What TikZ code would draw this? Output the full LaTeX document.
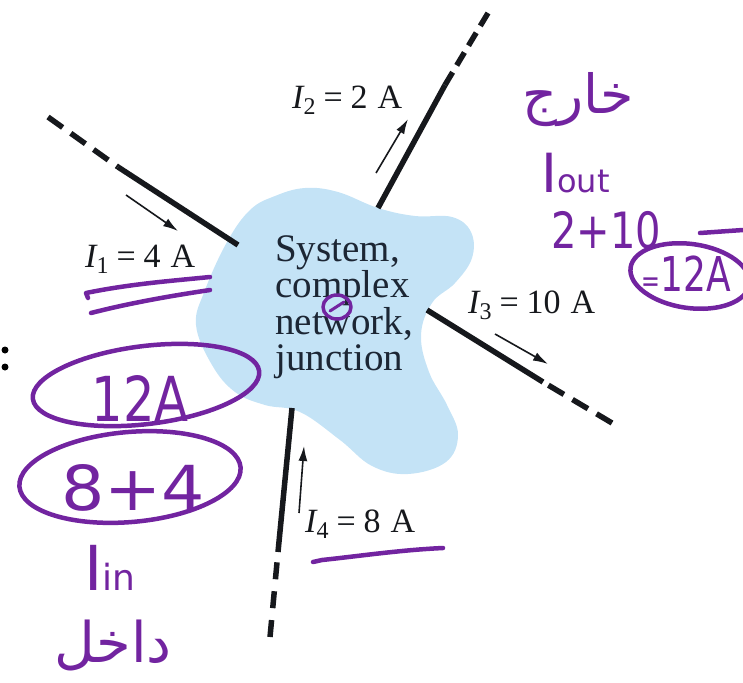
\documentclass[tikz,border=0pt]{standalone}
\usepackage{fontspec}
\setmainfont{Liberation Serif}
\newfontfamily\hand{DejaVu Sans}
\newfontfamily\arabicfont[Script=Arabic]{DejaVu Sans}
\TeXXeTstate=1
\usetikzlibrary{arrows.meta}
\definecolor{blobblue}{RGB}{196,227,246}
\definecolor{pen}{RGB}{114,36,160}
\definecolor{ink}{RGB}{22,24,28}
\definecolor{bodyink}{RGB}{28,38,52}
\newcommand{\curlab}[2]{{\itshape I}\raisebox{-6pt}{\fontsize{24}{24}\selectfont #1}\hspace{8pt}=\hspace{8pt}#2\hspace{10pt}A}
\begin{document}
\begin{tikzpicture}[x=1pt,y=-1pt,
  wire/.style={line width=5.5pt,ink},
  wiredash/.style={line width=5.5pt,ink,dash pattern=on 18pt off 10pt},
  curarrow/.style={line width=1.6pt,ink,-{Latex[length=15pt,width=9pt]}},
  curlabel/.style={anchor=base west,inner sep=0pt,text=ink,font=\fontsize{34}{34}\selectfont},
  body/.style={anchor=base west,inner sep=0pt,text=bodyink,font=\fontsize{39}{39}\selectfont},
  penline/.style={pen,line width=4.5pt,line cap=round,line join=round},
  pentext/.style={inner sep=0pt,text=pen},
]
\useasboundingbox (0,0) rectangle (743,682);

% blob
\fill[blobblue] plot[smooth cycle, tension=0.65] coordinates {
 (205,290) (227,242) (250,210) (275,196) (305,188) (338,192) (378,208)
 (415,216) (452,217) (471,232) (472,258) (455,283) (432,303) (421,335)
 (429,372) (447,405) (458,435) (446,462) (408,474) (372,466) (340,440)
 (300,412) (265,405) (235,392) (212,365) (196,325)};

% wire coordinates
\coordinate (w1o) at (48,117);  \coordinate (w1m) at (118,167); \coordinate (w1i) at (238,245);
\coordinate (w2i) at (378,208); \coordinate (w2m) at (445,85);  \coordinate (w2o) at (488,13);
\coordinate (w3i) at (427,310); \coordinate (w3m) at (543,382); \coordinate (w3o) at (612,423);
\coordinate (w4i) at (292,408); \coordinate (w4m) at (278,552); \coordinate (w4o) at (270,637);

\draw[wire] (w1m) -- (w1i);
\draw[wiredash] (w1o) -- (w1m);
\draw[wire] (w2i) -- (w2m);
\draw[wiredash,dash pattern=on 15pt off 8pt] (w2o) -- (w2m);
\draw[wire] (w3i) -- (w3m);
\draw[wiredash] (w3o) -- (w3m);
\draw[wire] (w4i) -- (w4m);
\draw[wiredash,dash pattern=on 17pt off 12pt] (w4o) -- (w4m);

% current arrows
\coordinate (a1s) at (126,195); \coordinate (a1e) at (178,231);
\coordinate (a2s) at (376,173); \coordinate (a2e) at (408,119);
\coordinate (a3s) at (495,334); \coordinate (a3e) at (548,364);
\coordinate (a4s) at (299,513); \coordinate (a4e) at (304,446);
\draw[curarrow] (a1s) -- (a1e);
\draw[curarrow] (a2s) -- (a2e);
\draw[curarrow] (a3s) -- (a3e);
\draw[curarrow] (a4s) -- (a4e);

% labels
\node[curlabel] (L1) at (85,267) {\curlab{1}{4}};
\node[curlabel] (L2) at (292,108) {\curlab{2}{2}};
\node[curlabel] (L3) at (468,313) {\curlab{3}{10}};
\node[curlabel] (L4) at (305,532) {\curlab{4}{8}};

\node[body] (t1) at (275,261) {System,};
\node[body] (t2) at (275,297) {complex};
\node[body] (t3) at (275,334) {network,};
\node[body] (t4) at (275,370) {junction};

% colon
\fill[black] (5,350) circle (3.5pt) (5,367) circle (3.5pt);

% handwritten annotations
\draw[penline] (88,298) -- (86,293) .. controls (130,284) and (170,281) .. (210,277);
\draw[penline] (91,313) .. controls (130,303) and (170,296) .. (210,290);
\draw[penline] (313,562) -- (322,560) .. controls (360,556) and (400,550) .. (443,548);
\draw[penline,line width=3.5pt] (337,307) ellipse [x radius=14, y radius=12];
\draw[penline,line width=3pt] (330,311) -- (344,302);

\draw[penline] (146,385) ellipse [x radius=114, y radius=39, rotate=7];
\draw[penline] (130,477) ellipse [x radius=111, y radius=45, rotate=5];
\node[pentext,font=\hand\fontsize{62}{62}\selectfont,xscale=0.8] (h12) at (140,398) {12A};
\node[pentext,font=\hand\fontsize{62}{62}\selectfont,xscale=1.1] (h84) at (133,488) {8+4};
\node[pentext,anchor=base west] (hin) at (84,590) {\hand\fontsize{62}{62}\selectfont I\fontsize{36}{36}\selectfont in};
\node[pentext,font=\arabicfont\fontsize{56}{56}\selectfont] (hdakhil) at (113,645) {\beginR داخل\endR};

\node[pentext,font=\arabicfont\fontsize{54}{54}\selectfont] (hkharij) at (578,100) {\beginR خارج\endR};
\node[pentext,anchor=base west] (hout) at (541,192) {\hand\fontsize{54}{54}\selectfont I\fontsize{32}{32}\selectfont out};
\node[pentext,font=\hand\fontsize{50}{50}\selectfont,xscale=0.8] (h210) at (606,230) {2+10};
\draw[penline] (690,276) ellipse [x radius=60, y radius=32, rotate=-8];
\draw[penline] (700,233) -- (743,230);
\node[pentext,font=\hand\fontsize{48}{48}\selectfont,xscale=0.75] (h12b) at (686,274) {{\fontsize{30}{30}\selectfont =}12A};
\end{tikzpicture}
\end{document}
